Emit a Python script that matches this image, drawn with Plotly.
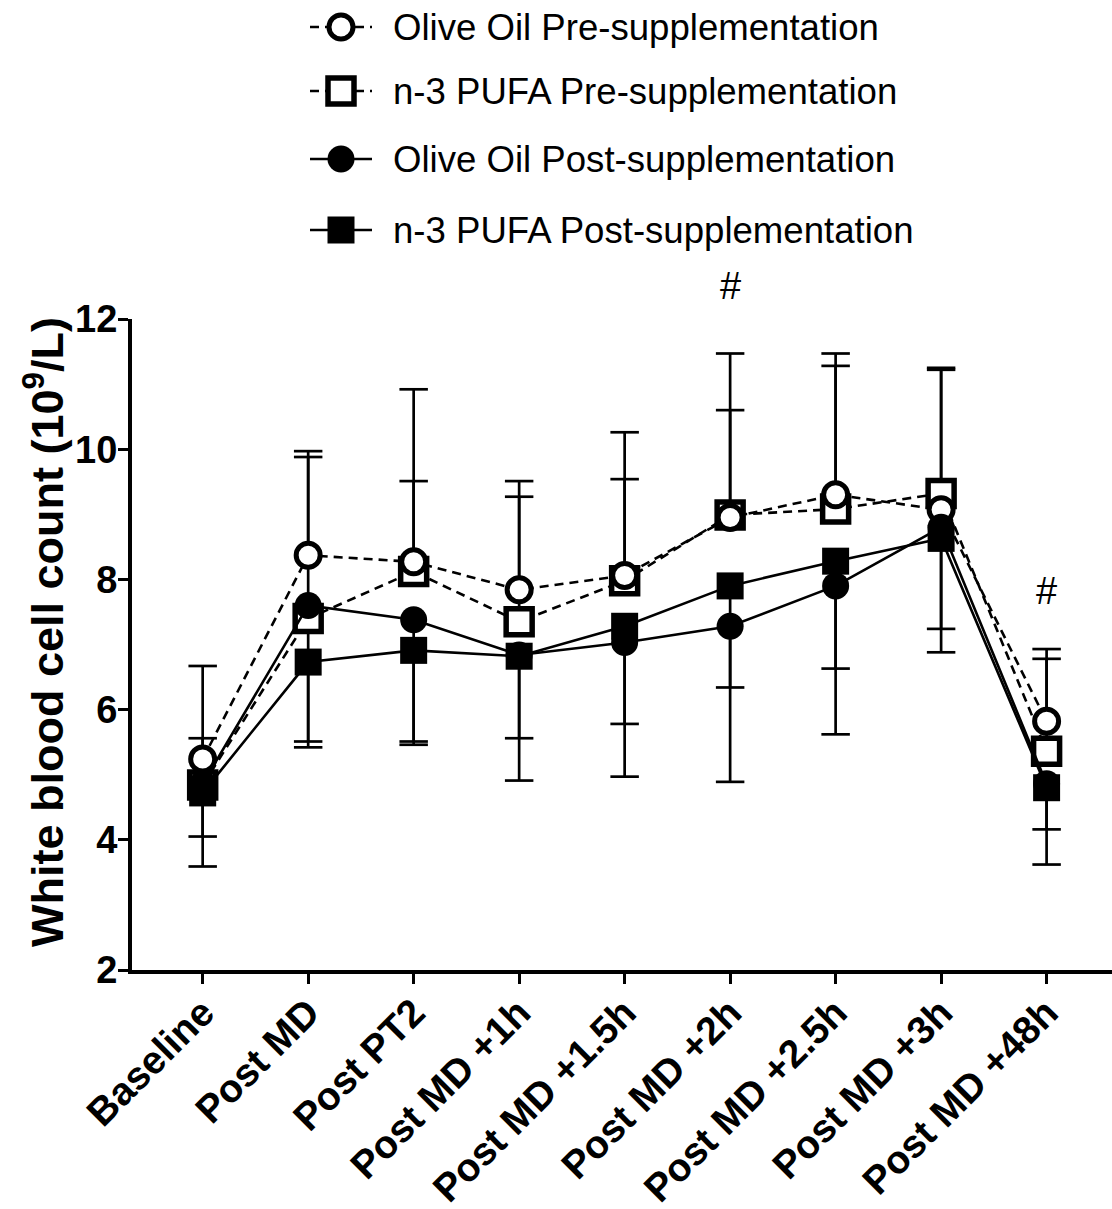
import plotly.graph_objects as go

categories = ["Baseline", "Post MD", "Post PT2", "Post MD +1h", "Post MD +1.5h",
              "Post MD +2h", "Post MD +2.5h", "Post MD +3h", "Post MD +48h"]

olive_pre = [5.24, 8.37, 8.27, 7.84, 8.06, 8.95, 9.30, 9.07, 5.82]
olive_pre_sd = [1.43, 1.60, 2.65, 1.67, 2.20, 2.52, 2.17, 2.15, 1.11]

n3_pre = [4.84, 7.40, 8.12, 7.35, 7.98, 8.99, 9.08, 9.32, 5.36]
n3_pre_sd = [0.72, 2.48, 1.39, 1.92, 1.56, 1.61, 2.20, 1.93, 1.42]

olive_post = [4.86, 7.60, 7.38, 6.84, 7.03, 7.28, 7.90, 8.80, 4.86]
olive_post_sd = [1.27, 2.18, 1.92, 1.93, 2.06, 2.39, 2.28, 1.92, 1.24]

n3_post = [4.72, 6.73, 6.91, 6.82, 7.28, 7.90, 8.28, 8.63, 4.80]
n3_post_sd = [0.67, 1.22, 1.40, 1.26, 1.50, 1.56, 1.65, 1.39, 0.64]

sig_categories = ["Post MD +2h", "Post MD +48h"]
sig_y = [12.5, 7.82]

legend_names = ["Olive Oil Pre-supplementation", "n-3 PUFA Pre-supplementation",
                "Olive Oil Post-supplementation", "n-3 PUFA Post-supplementation"]

FONT = "Liberation Sans"
W, H = 1112, 1209
ML, MB = 132, 239
PLOT_H = 651                      # height of the data panel in px
AREA_H = H - MB                   # paper area height (top margin 0)
DOM_TOP = PLOT_H / AREA_H
Y_RANGE = [2, 12]

xs = list(range(len(categories)))
CAP = 0.135  # half cap width in category units
DASH = "9px,6px"

styles = {
    "Olive Oil Pre-supplementation": dict(symbol="circle", size=24, fill="white", lw=5, dash=DASH),
    "n-3 PUFA Pre-supplementation": dict(symbol="square", size=26, fill="white", lw=5.5, dash=DASH),
    "Olive Oil Post-supplementation": dict(symbol="circle", size=27, fill="black", lw=0, dash="solid"),
    "n-3 PUFA Post-supplementation": dict(symbol="square", size=27, fill="black", lw=0, dash="solid"),
}


def err_path(means, sds, direction):
    px, py = [], []
    for x, m, s in zip(xs, means, sds):
        end = m + direction * s
        px += [x, x, None, x - CAP, x + CAP, None]
        py += [m, end, None, end, end, None]
    return px, py


fig = go.Figure()

# error bars (pre-supplementation: upward, post-supplementation: downward)
for means, sds, d in [(olive_pre, olive_pre_sd, 1), (n3_pre, n3_pre_sd, 1),
                      (olive_post, olive_post_sd, -1), (n3_post, n3_post_sd, -1)]:
    px, py = err_path(means, sds, d)
    fig.add_trace(go.Scatter(x=px, y=py, mode="lines", showlegend=False,
                             line=dict(color="black", width=2.7), hoverinfo="skip",
                             cliponaxis=False))

draw_order = [("n-3 PUFA Pre-supplementation", n3_pre),
              ("Olive Oil Pre-supplementation", olive_pre),
              ("n-3 PUFA Post-supplementation", n3_post),
              ("Olive Oil Post-supplementation", olive_post)]
for name, ys in draw_order:
    st = styles[name]
    fig.add_trace(go.Scatter(
        x=xs, y=ys, name=name, mode="lines+markers", showlegend=False,
        line=dict(color="black", width=2.6, dash=st["dash"]),
        marker=dict(symbol=st["symbol"], size=st["size"], color=st["fill"],
                    line=dict(color="black", width=st["lw"])),
        cliponaxis=False))

# custom legend drawn on a hidden pixel-scaled axis pair above the panel
LEG_X0, LEG_X1, LEG_TXT = 310, 372, 391
LEG_ROWS = [27, 91, 159, 230]
for name, yrow in zip(legend_names, LEG_ROWS):
    st = styles[name]
    fig.add_trace(go.Scatter(
        x=[LEG_X0, LEG_X1], y=[yrow, yrow], xaxis="x2", yaxis="y2", mode="lines",
        showlegend=False, hoverinfo="skip",
        line=dict(color="black", width=2.6, dash=st["dash"]), cliponaxis=False))
    fig.add_trace(go.Scatter(
        x=[(LEG_X0 + LEG_X1) / 2], y=[yrow], xaxis="x2", yaxis="y2", mode="markers",
        showlegend=False, hoverinfo="skip",
        marker=dict(symbol=st["symbol"], size=st["size"], color=st["fill"],
                    line=dict(color="black", width=st["lw"])), cliponaxis=False))
    fig.add_annotation(x=LEG_TXT, y=yrow, xref="x2", yref="y2", text=name,
                       showarrow=False, xanchor="left", yanchor="middle",
                       font=dict(family=FONT, size=36.6, color="black"))

for c, yv in zip(sig_categories, sig_y):
    frac = (yv - Y_RANGE[0]) / (Y_RANGE[1] - Y_RANGE[0])
    fig.add_annotation(x=categories.index(c), xref="x", y=frac * DOM_TOP, yref="paper",
                       text="#", showarrow=False, yanchor="middle",
                       font=dict(family=FONT, size=38, color="black"))

# y-axis title
fig.add_annotation(x=(44 - ML) / (W - ML), xref="paper", y=(AREA_H - 632) / AREA_H, yref="paper",
                   text="<b>White blood cell count (10<sup>9</sup>/L)</b>", textangle=-90,
                   showarrow=False, xanchor="center", yanchor="middle",
                   font=dict(family=FONT, size=45, color="black"))

fig.update_layout(
    width=W, height=H,
    margin=dict(l=ML, r=0, t=0, b=MB, autoexpand=False),
    paper_bgcolor="white", plot_bgcolor="rgba(0,0,0,0)",
    font=dict(family=FONT, color="black"),
    showlegend=False,
    xaxis=dict(range=[-0.67, 8.62], tickvals=xs, ticktext=categories,
               tickangle=-45, showgrid=False, zeroline=False, automargin=False,
               showline=True, linewidth=4, linecolor="black",
               ticks="outside", ticklen=10, tickwidth=3, tickcolor="black",
               ticklabelstandoff=-10,
               tickfont=dict(family=FONT, size=39, color="black", weight="bold")),
    yaxis=dict(range=Y_RANGE, domain=[0, DOM_TOP], tickvals=[2, 4, 6, 8, 10, 12],
               showgrid=False, zeroline=False, automargin=False,
               showline=True, linewidth=4, linecolor="black",
               ticks="outside", ticklen=10, tickwidth=3, tickcolor="black",
               ticklabelstandoff=-7,
               tickfont=dict(family=FONT, size=38, color="black", weight="bold")),
    xaxis2=dict(range=[ML, W], domain=[0, 1], anchor="y2", visible=False,
                fixedrange=True, automargin=False),
    yaxis2=dict(range=[AREA_H, 0], domain=[0, 1], anchor="x2", visible=False,
                fixedrange=True, automargin=False),
)

fig.write_html("out.html")
